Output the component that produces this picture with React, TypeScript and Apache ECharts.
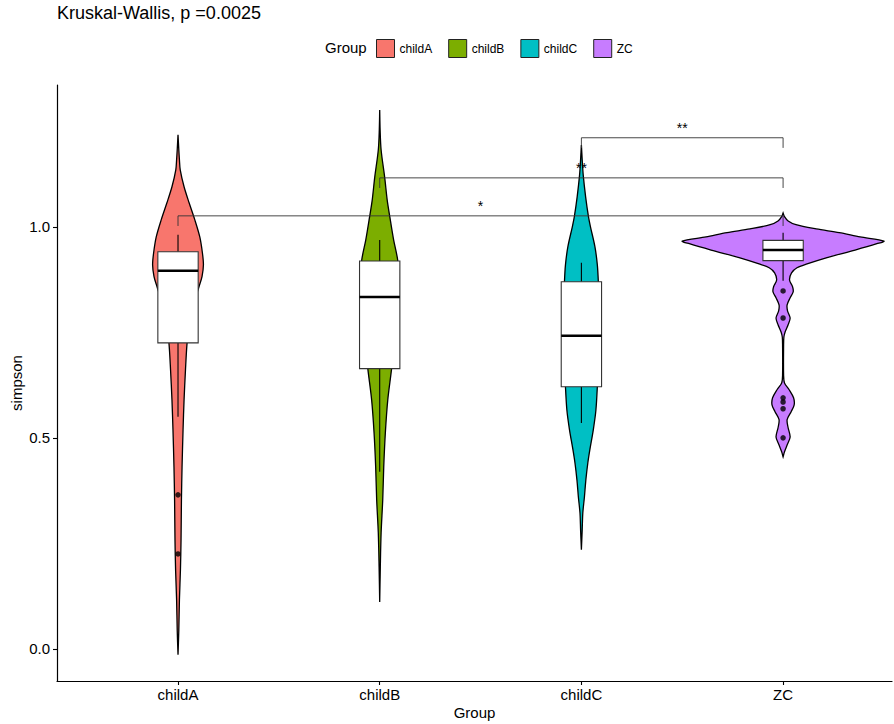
import React, { useEffect, useRef } from "react";
import * as echarts from "echarts";

// ---------- data ----------
const categories = ["childA", "childB", "childC", "ZC"];

// violin outlines: [value, half-width in x-axis units]
const violinChildA: [number, number][] = [
  [1.218, 0], [1.182, 0.004], [1.159, 0.007], [1.135, 0.011], [1.095, 0.030],
  [1.057, 0.055], [1.017, 0.083], [0.976, 0.108], [0.938, 0.121], [0.910, 0.126],
  [0.882, 0.119], [0.858, 0.104], [0.827, 0.084], [0.780, 0.059], [0.725, 0.045],
  [0.661, 0.037], [0.590, 0.030], [0.519, 0.025], [0.431, 0.020], [0.353, 0.017],
  [0.258, 0.015], [0.187, 0.012], [0.116, 0.007], [0.045, 0.004], [-0.014, 0],
];
const violinChildB: [number, number][] = [
  [1.277, 0], [1.230, 0.002], [1.182, 0.007], [1.116, 0.025], [1.064, 0.037],
  [1.024, 0.050], [0.969, 0.069], [0.922, 0.089], [0.874, 0.097], [0.827, 0.094],
  [0.756, 0.079], [0.664, 0.059], [0.590, 0.040], [0.512, 0.028], [0.431, 0.020],
  [0.353, 0.015], [0.275, 0.007], [0.194, 0.003], [0.111, 0],
];
const violinChildC: [number, number][] = [
  [1.194, 0], [1.159, 0.004], [1.123, 0.009], [1.071, 0.021], [1.024, 0.035],
  [1.000, 0.045], [0.953, 0.067], [0.910, 0.079], [0.870, 0.084], [0.803, 0.089],
  [0.709, 0.087], [0.621, 0.079], [0.566, 0.072], [0.519, 0.059], [0.472, 0.042],
  [0.441, 0.032], [0.400, 0.022], [0.360, 0.015], [0.322, 0.007], [0.282, 0.004],
  [0.235, 0],
];
const violinZC: [number, number][] = [
  [1.033, 0], [1.024, 0.007], [1.014, 0.025], [1.005, 0.064], [0.995, 0.164],
  [0.986, 0.278], [0.976, 0.382], [0.966, 0.500], [0.960, 0.465], [0.945, 0.357],
  [0.927, 0.218], [0.912, 0.119], [0.903, 0.069], [0.891, 0.042], [0.874, 0.032],
  [0.858, 0.047], [0.846, 0.050], [0.832, 0.035], [0.815, 0.020], [0.801, 0.022],
  [0.784, 0.035], [0.768, 0.025], [0.751, 0.010], [0.739, 0.004], [0.720, 0.0025],
  [0.649, 0.0025], [0.630, 0.007], [0.614, 0.030], [0.595, 0.052], [0.578, 0.055],
  [0.562, 0.040], [0.543, 0.020], [0.524, 0.025], [0.502, 0.035], [0.483, 0.020],
  [0.467, 0.007], [0.455, 0],
];
const violins = [violinChildA, violinChildB, violinChildC, violinZC];

// box stats: [lower whisker, Q1, median, Q3, upper whisker]
const boxChildA = [0.55, 0.725, 0.896, 0.941, 0.981];
const boxChildB = [0.42, 0.664, 0.834, 0.919, 0.969];
const boxChildC = [0.535, 0.621, 0.742, 0.870, 0.915];
const boxZC = [0.872, 0.920, 0.945, 0.968, 0.986];
const boxes = [boxChildA, boxChildB, boxChildC, boxZC];

// outliers: [group position (1-based), value]
const outliers: [number, number][] = [
  [1, 0.365], [1, 0.225],
  [4, 0.848], [4, 0.784], [4, 0.595], [4, 0.585], [4, 0.569], [4, 0.500],
];

// pairwise comparisons
const comparisonPairs: [number, number][] = [[1, 4], [2, 4], [3, 4]];
const comparisonHeights = [1.026, 1.116, 1.211];
const comparisonLabels = ["*", "**", "**"];

const yTicks = [0, 0.5, 1.0];
const xTicks = [1, 2, 3, 4];
const titleText = "Kruskal-Wallis, p =0.0025";

// ---------- styles ----------
const palette = ["#F8766D", "#7CAE00", "#00BFC4", "#C77CFF"];
const fontFamily = '"Liberation Sans", Arial, Helvetica, sans-serif';
const BOX_HALF = 0.1;
const TIP = 0.024;

export default function App() {
  const ref = useRef<HTMLDivElement>(null);

  useEffect(() => {
    const chart = echarts.init(ref.current as HTMLDivElement, null, { renderer: "svg" });

    const violinSeries = categories.map((name, gi) => ({
      name,
      type: "custom",
      coordinateSystem: "cartesian2d",
      itemStyle: { color: palette[gi], borderColor: "#000", borderWidth: 1 },
      data: [[gi + 1, boxes[gi][2]]],
      silent: true,
      z: 2,
      renderItem: (_params: any, api: any) => {
        const pos = gi + 1;
        const prof = violins[gi];
        const right = prof.map(([v, w]) => api.coord([pos + w, v]));
        const left = prof
          .slice()
          .reverse()
          .map(([v, w]) => api.coord([pos - w, v]));
        const [lo, q1, med, q3, hi] = boxes[gi];
        const tl = api.coord([pos - BOX_HALF, q3]);
        const br = api.coord([pos + BOX_HALF, q1]);
        const mL = api.coord([pos - BOX_HALF, med]);
        const mR = api.coord([pos + BOX_HALF, med]);
        const wTop = api.coord([pos, hi]);
        const wQ3 = api.coord([pos, q3]);
        const wQ1 = api.coord([pos, q1]);
        const wBot = api.coord([pos, lo]);
        return {
          type: "group",
          children: [
            {
              type: "polygon",
              shape: { points: right.concat(left), smooth: 0.3 },
              style: { fill: palette[gi], stroke: "#000", lineWidth: 1.3 },
            },
            {
              type: "line",
              shape: { x1: wTop[0], y1: wTop[1], x2: wQ3[0], y2: wQ3[1] },
              style: { stroke: "#000", lineWidth: 1.1 },
            },
            {
              type: "line",
              shape: { x1: wQ1[0], y1: wQ1[1], x2: wBot[0], y2: wBot[1] },
              style: { stroke: "#000", lineWidth: 1.1 },
            },
            {
              type: "rect",
              shape: { x: tl[0], y: tl[1], width: br[0] - tl[0], height: br[1] - tl[1] },
              style: { fill: "#fff", stroke: "#333", lineWidth: 1.1 },
            },
            {
              type: "line",
              shape: { x1: mL[0], y1: mL[1], x2: mR[0], y2: mR[1] },
              style: { stroke: "#000", lineWidth: 2.5 },
            },
          ],
        };
      },
    }));

    const bracketData = comparisonPairs.map((p, i) => [p[0], p[1], comparisonHeights[i], i]);

    const option: any = {
      animation: false,
      backgroundColor: "#fff",
      textStyle: { fontFamily },
      title: {
        text: titleText,
        left: 57,
        top: 4,
        padding: 0,
        textStyle: { fontSize: 18, fontWeight: "normal", color: "#000", fontFamily },
      },
      graphic: [
        {
          type: "text",
          left: 325,
          top: 40,
          style: { text: "Group", fontSize: 15, fill: "#000", fontFamily },
        },
      ],
      legend: {
        left: 376,
        top: 39,
        padding: 0,
        itemWidth: 18,
        itemHeight: 18,
        itemGap: 16,
        icon: "rect",
        textStyle: { fontSize: 12, color: "#000", fontFamily },
        data: categories.map((name, gi) => ({
          name,
          icon: "rect",
          itemStyle: { color: palette[gi], borderColor: "#222", borderWidth: 1 },
        })),
        selectedMode: false,
      },
      grid: {
        left: 57,
        right: 2,
        top: 85,
        bottom: 43,
        containLabel: false,
        outerBoundsMode: "none",
      },
      xAxis: {
        type: "value",
        min: 0.4,
        max: 4.54,
        name: "Group",
        nameLocation: "middle",
        nameGap: 24,
        nameMoveOverlap: false,
        nameTextStyle: { fontSize: 15, color: "#000", fontFamily },
        axisLine: { show: true, onZero: false, lineStyle: { color: "#000", width: 1.2 } },
        axisTick: { show: true, length: 4, customValues: xTicks, lineStyle: { color: "#000", width: 1.1 } },
        axisLabel: {
          customValues: xTicks,
          margin: 6,
          fontSize: 15,
          color: "#000",
          fontFamily,
          formatter: (v: number) => categories[Math.round(v) - 1] ?? "",
        },
        splitLine: { show: false },
      },
      yAxis: {
        type: "value",
        min: -0.076,
        max: 1.336,
        name: "simpson",
        nameLocation: "middle",
        nameGap: 33,
        nameMoveOverlap: false,
        nameTextStyle: { fontSize: 15, color: "#000", fontFamily },
        axisLine: { show: true, onZero: false, lineStyle: { color: "#000", width: 1.2 } },
        axisTick: { show: true, length: 4, customValues: yTicks, lineStyle: { color: "#000", width: 1.1 } },
        axisLabel: {
          customValues: yTicks,
          margin: 7,
          fontSize: 15,
          color: "#000",
          fontFamily,
          formatter: (v: number) => v.toFixed(1),
        },
        splitLine: { show: false },
      },
      series: [
        ...violinSeries,
        {
          name: "outliers",
          type: "scatter",
          data: outliers,
          symbol: "circle",
          symbolSize: 5.5,
          itemStyle: { color: "#000" },
          silent: true,
          z: 4,
        },
        {
          name: "comparisons",
          type: "custom",
          coordinateSystem: "cartesian2d",
          silent: true,
          z: 5,
          data: bracketData,
          renderItem: (_params: any, api: any) => {
            const a = api.value(0);
            const b = api.value(1);
            const y = api.value(2);
            const idx = api.value(3);
            const p1 = api.coord([a, y - TIP]);
            const p2 = api.coord([a, y]);
            const p3 = api.coord([b, y]);
            const p4 = api.coord([b, y - TIP]);
            const mid = api.coord([(a + b) / 2, y]);
            return {
              type: "group",
              children: [
                {
                  type: "polyline",
                  shape: { points: [p1, p2, p3, p4] },
                  style: { stroke: "#333", lineWidth: 0.9, fill: "none" },
                },
                {
                  type: "text",
                  x: mid[0],
                  y: mid[1] - 3,
                  style: {
                    text: comparisonLabels[idx],
                    fontSize: 14,
                    fill: "#000",
                    align: "center",
                    verticalAlign: "bottom",
                    fontFamily,
                  },
                },
              ],
            };
          },
        },
      ],
    };

    chart.setOption(option);
    return () => chart.dispose();
  }, []);

  return (
    <div style={{ position: "absolute", left: 0, top: 0 }}>
      <div ref={ref} style={{ width: 894, height: 724 }} />
    </div>
  );
}
